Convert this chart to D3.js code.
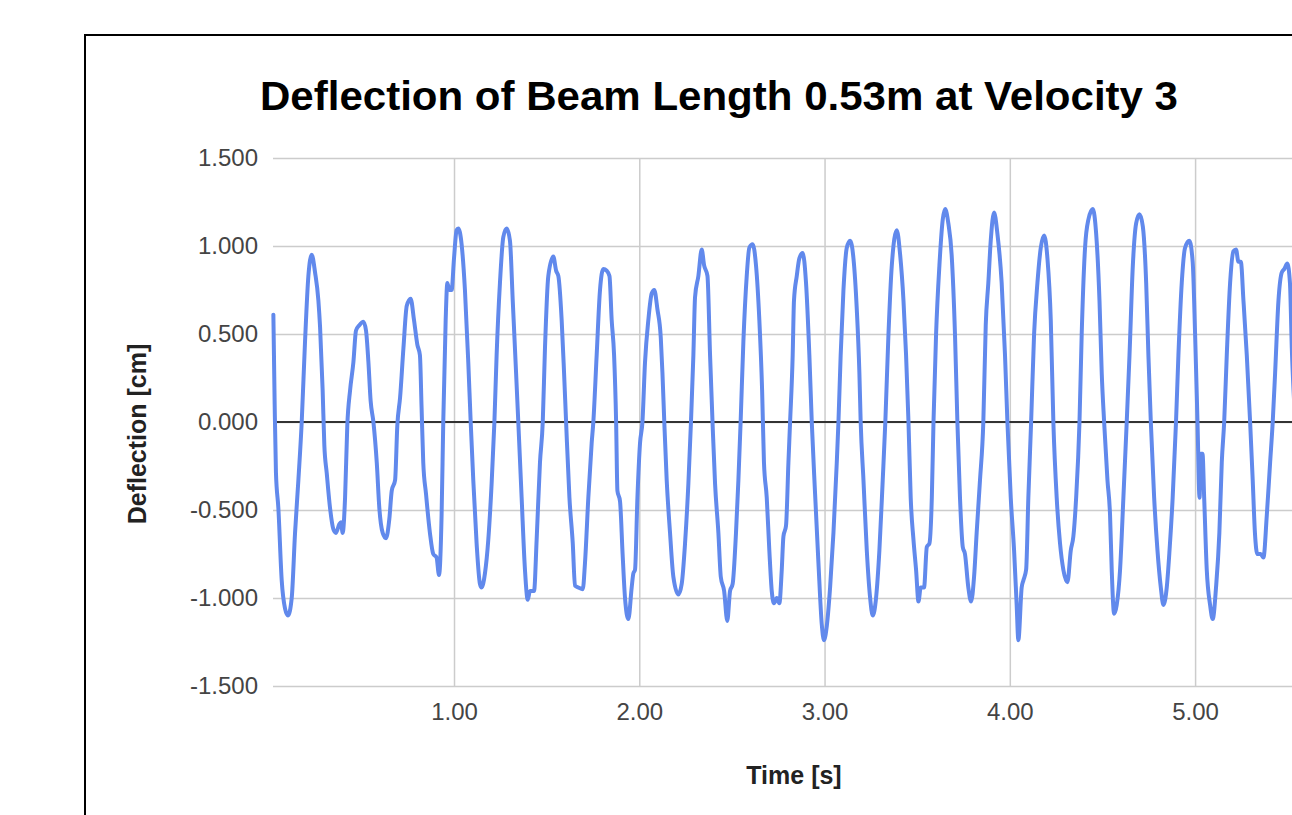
<!DOCTYPE html>
<html>
<head>
<meta charset="utf-8">
<script src="https://cdn.jsdelivr.net/npm/d3@7"></script>
<style>
  html, body { margin: 0; padding: 0; background: #fff; overflow: hidden; }
  svg { display: block; font-family: Arial, "Liberation Sans", sans-serif; }
</style>
</head>
<body>
<div id="chart"></div>
<script>
// values (time in s, deflection in cm)
const timeS = [
  0.025, 0.032, 0.039, 0.052, 0.070, 0.088, 0.104, 0.124, 0.142, 0.160, 0.178, 0.196, 0.214, 0.232,
  0.250, 0.268, 0.277, 0.291, 0.300, 0.313, 0.331, 0.349, 0.363, 0.381, 0.390, 0.399, 0.412, 0.424,
  0.439, 0.457, 0.471, 0.489, 0.511, 0.525, 0.538, 0.550, 0.565, 0.583, 0.597, 0.615, 0.633, 0.651,
  0.664, 0.682, 0.694, 0.709, 0.727, 0.745, 0.766, 0.784, 0.802, 0.816, 0.825, 0.834, 0.849, 0.870,
  0.888, 0.906, 0.919, 0.933, 0.942, 0.955, 0.964, 0.975, 0.987, 1.000, 1.014, 1.023, 1.041, 1.059,
  1.077, 1.090, 1.104, 1.122, 1.140, 1.149, 1.167, 1.185, 1.203, 1.218, 1.230, 1.248, 1.266, 1.284,
  1.302, 1.317, 1.335, 1.347, 1.365, 1.383, 1.398, 1.410, 1.432, 1.446, 1.464, 1.479, 1.491, 1.509,
  1.536, 1.551, 1.563, 1.581, 1.594, 1.605, 1.623, 1.641, 1.653, 1.671, 1.695, 1.707, 1.725, 1.743,
  1.752, 1.770, 1.788, 1.806, 1.824, 1.839, 1.851, 1.864, 1.875, 1.882, 1.896, 1.910, 1.923, 1.941,
  1.959, 1.968, 1.977, 1.990, 2.004, 2.017, 2.031, 2.049, 2.067, 2.081, 2.098, 2.116, 2.125, 2.135,
  2.148, 2.166, 2.184, 2.211, 2.229, 2.247, 2.265, 2.279, 2.292, 2.301, 2.319, 2.337, 2.350, 2.368,
  2.382, 2.396, 2.409, 2.427, 2.440, 2.458, 2.475, 2.490, 2.504, 2.522, 2.535, 2.547, 2.562, 2.580,
  2.594, 2.612, 2.630, 2.648, 2.663, 2.673, 2.688, 2.702, 2.715, 2.727, 2.742, 2.756, 2.769, 2.778,
  2.792, 2.805, 2.814, 2.828, 2.835, 2.850, 2.864, 2.882, 2.900, 2.918, 2.931, 2.949, 2.967, 2.985,
  2.997, 3.012, 3.030, 3.048, 3.066, 3.075, 3.087, 3.102, 3.120, 3.138, 3.156, 3.174, 3.188, 3.195,
  3.210, 3.228, 3.246, 3.260, 3.278, 3.296, 3.314, 3.328, 3.345, 3.363, 3.390, 3.408, 3.426, 3.440,
  3.453, 3.465, 3.480, 3.494, 3.507, 3.519, 3.537, 3.552, 3.566, 3.579, 3.588, 3.602, 3.620, 3.638,
  3.651, 3.668, 3.686, 3.704, 3.717, 3.731, 3.746, 3.758, 3.776, 3.791, 3.807, 3.821, 3.839, 3.857,
  3.870, 3.884, 3.897, 3.915, 3.933, 3.956, 3.974, 3.987, 4.005, 4.023, 4.037, 4.046, 4.064, 4.073,
  4.088, 4.100, 4.115, 4.131, 4.149, 4.167, 4.185, 4.203, 4.221, 4.235, 4.253, 4.271, 4.289, 4.311,
  4.329, 4.343, 4.358, 4.376, 4.388, 4.406, 4.424, 4.448, 4.466, 4.484, 4.496, 4.509, 4.527, 4.541,
  4.550, 4.563, 4.577, 4.595, 4.613, 4.631, 4.646, 4.664, 4.682, 4.700, 4.718, 4.736, 4.748, 4.761,
  4.779, 4.797, 4.815, 4.829, 4.847, 4.862, 4.879, 4.897, 4.910, 4.928, 4.946, 4.969, 4.987, 5.000,
  5.013, 5.024, 5.031, 5.040, 5.049, 5.063, 5.081, 5.095, 5.113, 5.131, 5.144, 5.157, 5.171, 5.189,
  5.207, 5.221, 5.234, 5.247, 5.261, 5.279, 5.297, 5.311, 5.323, 5.336, 5.354, 5.369, 5.387, 5.405,
  5.419, 5.432, 5.450, 5.468, 5.482, 5.498, 5.512, 5.522, 5.540, 5.560
];
const deflectionCm = [
  0.61, 0.10, -0.29, -0.49, -0.90, -1.06, -1.10, -1.00, -0.63, -0.33, 0.00, 0.46, 0.83, 0.95,
  0.85, 0.69, 0.54, 0.18, -0.13, -0.29, -0.49, -0.61, -0.63, -0.58, -0.57, -0.63, -0.43, -0.02,
  0.18, 0.34, 0.52, 0.55, 0.57, 0.52, 0.34, 0.12, 0.00, -0.23, -0.49, -0.63, -0.66, -0.55,
  -0.39, -0.33, -0.02, 0.14, 0.42, 0.66, 0.70, 0.58, 0.44, 0.38, 0.08, -0.23, -0.41, -0.63,
  -0.75, -0.77, -0.87, -0.53, 0.00, 0.58, 0.79, 0.75, 0.75, 0.93, 1.09, 1.10, 1.01, 0.75,
  0.34, 0.00, -0.33, -0.69, -0.92, -0.94, -0.86, -0.67, -0.35, 0.00, 0.38, 0.79, 1.05, 1.10,
  1.03, 0.69, 0.28, 0.00, -0.43, -0.84, -1.01, -0.96, -0.96, -0.67, -0.23, 0.00, 0.42, 0.83,
  0.94, 0.86, 0.83, 0.58, 0.28, 0.00, -0.43, -0.69, -0.93, -0.94, -0.95, -0.80, -0.43, -0.12,
  0.00, 0.38, 0.75, 0.87, 0.86, 0.83, 0.58, 0.38, 0.00, -0.39, -0.45, -0.75, -1.00, -1.12,
  -0.94, -0.86, -0.84, -0.43, -0.12, 0.00, 0.34, 0.58, 0.73, 0.75, 0.64, 0.48, 0.28, 0.00,
  -0.33, -0.63, -0.88, -0.98, -0.92, -0.69, -0.35, 0.00, 0.38, 0.71, 0.83, 0.98, 0.89, 0.83,
  0.38, -0.02, -0.35, -0.63, -0.88, -0.96, -1.13, -0.96, -0.92, -0.63, -0.33, 0.00, 0.46, 0.83,
  0.99, 1.01, 0.89, 0.58, 0.18, -0.23, -0.43, -0.73, -0.96, -1.03, -1.00, -1.03, -0.84, -0.65,
  -0.59, -0.23, 0.00, 0.38, 0.69, 0.83, 0.93, 0.96, 0.79, 0.38, 0.00, -0.41, -0.80, -1.15,
  -1.24, -1.16, -0.94, -0.63, -0.23, 0.00, 0.38, 0.75, 0.99, 1.03, 0.93, 0.64, 0.28, 0.00,
  -0.33, -0.73, -1.00, -1.10, -1.00, -0.73, -0.33, 0.00, 0.50, 0.89, 1.09, 0.95, 0.69, 0.38,
  0.00, -0.43, -0.67, -0.84, -1.02, -0.94, -0.94, -0.71, -0.69, -0.43, 0.00, 0.50, 0.89, 1.15,
  1.21, 1.13, 0.95, 0.50, 0.00, -0.43, -0.71, -0.75, -0.94, -1.02, -0.88, -0.63, -0.33, 0.00,
  0.55, 0.79, 1.03, 1.19, 1.07, 0.79, 0.38, 0.00, -0.43, -0.73, -1.04, -1.24, -0.94, -0.90,
  -0.84, -0.43, 0.00, 0.50, 0.79, 0.99, 1.06, 0.93, 0.58, 0.00, -0.43, -0.69, -0.84, -0.91,
  -0.73, -0.65, -0.43, 0.00, 0.50, 0.99, 1.15, 1.21, 1.07, 0.69, 0.28, 0.00, -0.33, -0.53,
  -0.84, -1.09, -1.04, -0.84, -0.43, 0.00, 0.38, 0.89, 1.13, 1.18, 1.11, 0.79, 0.38, 0.00,
  -0.43, -0.73, -0.94, -1.04, -0.94, -0.73, -0.43, 0.00, 0.38, 0.79, 0.99, 1.03, 0.91, 0.50,
  0.00, -0.43, -0.18, -0.18, -0.43, -0.84, -1.04, -1.12, -0.94, -0.63, -0.23, 0.00, 0.38, 0.79,
  0.97, 0.98, 0.91, 0.91, 0.69, 0.38, 0.00, -0.33, -0.63, -0.75, -0.75, -0.77, -0.53, -0.23,
  0.00, 0.28, 0.69, 0.85, 0.87, 0.90, 0.79, 0.42, 0.00, -0.45
];
const yTicks = [-1.5, -1.0, -0.5, 0, 0.5, 1.0, 1.5];
const xTicks = [1, 2, 3, 4, 5];
const chartTitle = "Deflection of Beam Length 0.53m at Velocity 3";
const xTitle = "Time [s]";
const yTitle = "Deflection [cm]";

const width = 1292, height = 815;
const plot = {left: 273, right: 1317, top: 158, bottom: 686};

const data = timeS.map((t, i) => ({t: t, v: deflectionCm[i]}));

const x = d3.scaleLinear().domain([0.023, 5.658]).range([plot.left, plot.right]);
const y = d3.scaleLinear().domain([-1.5, 1.5]).range([plot.bottom, plot.top]);

// plain hyphen for negatives, like the sheet does
const fmtY = d => d3.format(".3f")(d).replace("\u2212", "-");
const fmtX = d3.format(".2f");

const svg = d3.select("#chart").append("svg")
  .attr("width", width)
  .attr("height", height)
  .attr("viewBox", [0, 0, width, height]);

// chart frame (runs off the page on the right and bottom)
svg.append("rect")
  .attr("x", 85).attr("y", 35)
  .attr("width", 1268).attr("height", 820)
  .attr("fill", "#fff")
  .attr("stroke", "#000")
  .attr("stroke-width", 2);

svg.append("text")
  .attr("x", 719).attr("y", 110)
  .attr("text-anchor", "middle")
  .attr("font-size", 40)
  .attr("font-weight", "bold")
  .attr("fill", "#000")
  .attr("textLength", 918)
  .attr("lengthAdjust", "spacingAndGlyphs")
  .text(chartTitle);

// horizontal gridlines + y labels
svg.append("g")
  .attr("transform", `translate(${plot.left},0)`)
  .call(d3.axisLeft(y).tickValues(yTicks).tickFormat(fmtY).tickSize(-(plot.right - plot.left)).tickPadding(15))
  .call(g => g.select(".domain").remove())
  .call(g => g.selectAll(".tick line").attr("stroke", "#cccccc").attr("stroke-width", 1.5))
  .call(g => g.selectAll(".tick text").attr("fill", "#444").attr("font-size", 24).attr("font-family", "Arial, 'Liberation Sans', sans-serif"));

// vertical gridlines + x labels
svg.append("g")
  .attr("transform", `translate(0,${plot.bottom})`)
  .call(d3.axisBottom(x).tickValues(xTicks).tickFormat(fmtX).tickSize(-(plot.bottom - plot.top)).tickPadding(17))
  .call(g => g.select(".domain").remove())
  .call(g => g.selectAll(".tick line").attr("stroke", "#cccccc").attr("stroke-width", 1.5))
  .call(g => g.selectAll(".tick text").attr("fill", "#444").attr("font-size", 24).attr("font-family", "Arial, 'Liberation Sans', sans-serif"));

// zero baseline
svg.append("line")
  .attr("x1", plot.left).attr("x2", plot.right)
  .attr("y1", y(0)).attr("y2", y(0))
  .attr("stroke", "#333").attr("stroke-width", 2);

svg.append("path")
  .datum(data)
  .attr("fill", "none")
  .attr("stroke", "#6189ec")
  .attr("stroke-width", 4)
  .attr("stroke-linejoin", "round")
  .attr("stroke-linecap", "round")
  .attr("d", d3.line().x(d => x(d.t)).y(d => y(d.v)).curve(d3.curveMonotoneX));

svg.append("text")
  .attr("x", 794).attr("y", 784)
  .attr("text-anchor", "middle")
  .attr("font-size", 25)
  .attr("font-weight", "bold")
  .attr("fill", "#222")
  .text(xTitle);

svg.append("text")
  .attr("transform", "translate(146,434) rotate(-90)")
  .attr("text-anchor", "middle")
  .attr("font-size", 25)
  .attr("font-weight", "bold")
  .attr("fill", "#222")
  .text(yTitle);
</script>
</body>
</html>
